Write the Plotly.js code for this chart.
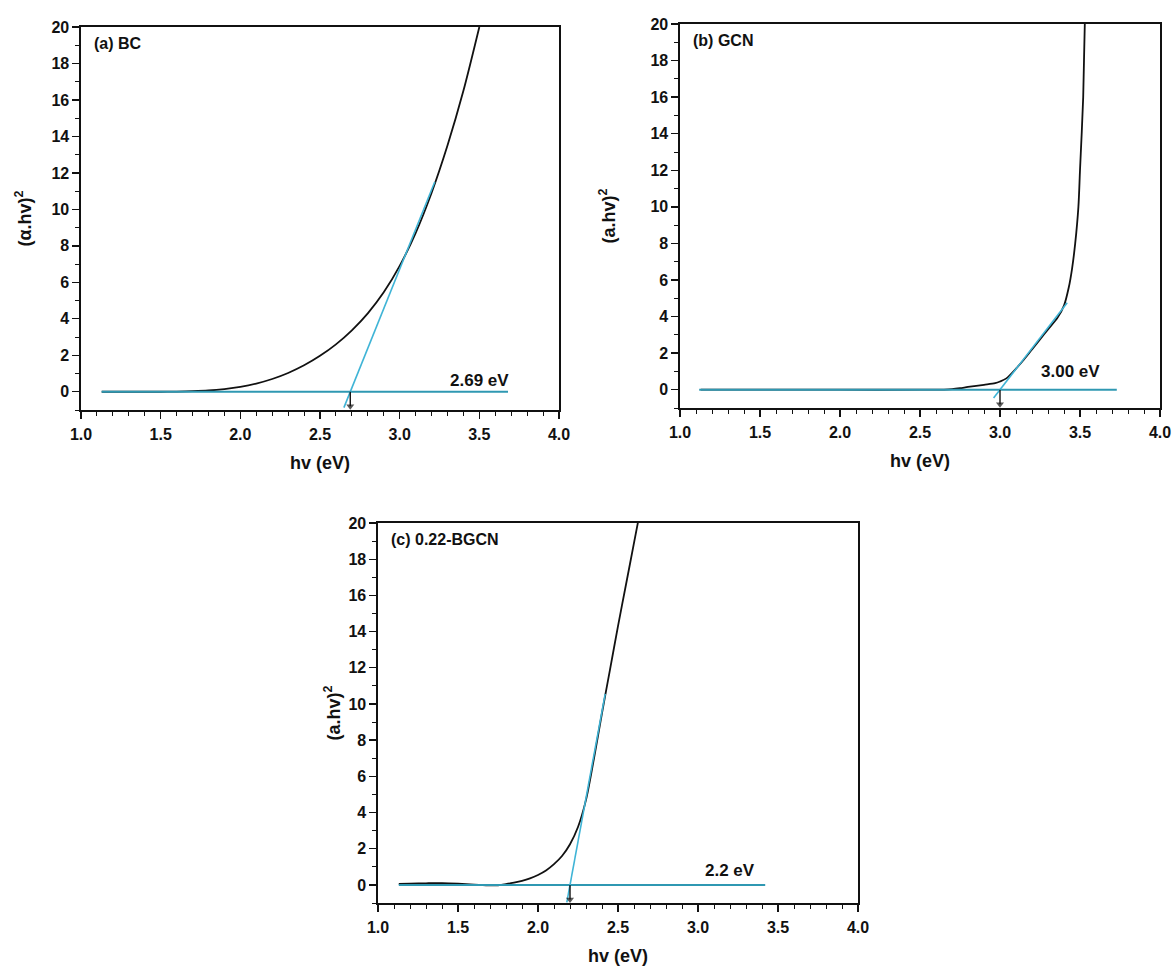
<!DOCTYPE html>
<html>
<head>
<meta charset="utf-8">
<script src="https://cdn.plot.ly/plotly-3.0.1.min.js"></script>
<style>html,body{margin:0;padding:0;background:#fff;}#chart{width:1174px;height:966px;}</style>
</head>
<body>
<div id="chart"></div>
<script>
// ---------- data ----------
// (a) BC
const bcX = [1.13, 1.3, 1.5, 1.6, 1.7, 1.8, 1.9, 2.0, 2.1, 2.2, 2.3, 2.4, 2.5, 2.6, 2.7, 2.8, 2.9, 3.0, 3.1, 3.2, 3.3, 3.4, 3.5];
const bcY = [0.0, 0.0, 0.0, 0.01, 0.03, 0.07, 0.15, 0.27, 0.45, 0.70, 1.03, 1.45, 1.97, 2.6, 3.37, 4.3, 5.45, 6.9, 8.7, 10.9, 13.5, 16.5, 20.0];
const bcTanX = [2.65, 3.22];
const bcTanY = [-0.87, 11.5];
const bcBaseX = [1.13, 3.68];
const bcBaseY = [0, 0];

// (b) GCN
const gcnX = [1.13, 1.5, 2.0, 2.5, 2.65, 2.7, 2.75, 2.8, 2.9, 2.97, 3.0, 3.04, 3.1, 3.15, 3.2, 3.25, 3.3, 3.36, 3.4, 3.43, 3.45, 3.47, 3.49, 3.5, 3.52, 3.53, 3.55];
const gcnY = [0, 0, 0, 0, 0.01, 0.03, 0.08, 0.15, 0.27, 0.36, 0.45, 0.62, 1.15, 1.65, 2.2, 2.75, 3.3, 3.95, 4.6, 5.6, 6.6, 8.0, 10.0, 12.0, 16.0, 20.0, 24.0];
const gcnTanX = [2.96, 3.42];
const gcnTanY = [-0.45, 4.75];
const gcnBaseX = [1.12, 3.73];
const gcnBaseY = [0, 0];

// (c) 0.22-BGCN
const bgcnX = [1.13, 1.2, 1.3, 1.4, 1.5, 1.6, 1.7, 1.75, 1.8, 1.85, 1.9, 1.95, 2.0, 2.05, 2.1, 2.15, 2.2, 2.25, 2.3, 2.35, 2.4, 2.45, 2.5, 2.55, 2.6, 2.65];
const bgcnY = [0.05, 0.07, 0.09, 0.1, 0.07, 0.02, -0.03, -0.02, 0.04, 0.12, 0.22, 0.36, 0.55, 0.8, 1.15, 1.6, 2.25, 3.2, 4.7, 7.0, 9.5, 11.9, 14.3, 16.6, 18.9, 21.2];
const bgcnTanX = [2.18, 2.42];
const bgcnTanY = [-0.96, 10.56];
const bgcnBaseX = [1.13, 3.42];
const bgcnBaseY = [0, 0];

const bandGaps = [2.69, 3.00, 2.2];
const arrowY = [0, -0.8];
const gapLabels = ['2.69 eV', '3.00 eV', '2.2 eV'];
const gapLabelX = [3.50, 3.44, 3.20];
const gapLabelY = [0.6, 1.0, 0.8];
const panelLabels = ['(a) BC', '(b) GCN', '(c) 0.22-BGCN'];
const yTitles = ['(\u03b1.hv)<sup>2</sup>', '(a.hv)<sup>2</sup>', '(a.hv)<sup>2</sup>'];
const xTitle = 'hv (eV)';

// ---------- styling ----------
const FONT = 'Arial, "Liberation Sans", sans-serif';
const BLACK = '#111111';
const CYAN_T = '#3fb4d6';
const CYAN_B = '#2f98b2';

const curves = [[bcX, bcY], [gcnX, gcnY], [bgcnX, bgcnY]];
const tangents = [[bcTanX, bcTanY], [gcnTanX, gcnTanY], [bgcnTanX, bgcnTanY]];
const baselines = [[bcBaseX, bcBaseY], [gcnBaseX, gcnBaseY], [bgcnBaseX, bgcnBaseY]];

const traces = [];
for (let i = 0; i < 3; i++) {
  const xa = i === 0 ? 'x' : 'x' + (i + 1);
  const ya = i === 0 ? 'y' : 'y' + (i + 1);
  traces.push({x: curves[i][0], y: curves[i][1], xaxis: xa, yaxis: ya, mode: 'lines',
    line: {color: BLACK, width: 1.8, shape: 'spline', smoothing: 0.8}, hoverinfo: 'skip'});
  traces.push({x: baselines[i][0], y: baselines[i][1], xaxis: xa, yaxis: ya, mode: 'lines',
    line: {color: CYAN_B, width: 2}, hoverinfo: 'skip'});
  traces.push({x: tangents[i][0], y: tangents[i][1], xaxis: xa, yaxis: ya, mode: 'lines',
    line: {color: CYAN_T, width: 1.6}, hoverinfo: 'skip'});
  // band-gap arrow
  traces.push({x: [bandGaps[i], bandGaps[i]], y: arrowY, xaxis: xa, yaxis: ya, mode: 'lines+markers',
    line: {color: BLACK, width: 1.4},
    marker: {symbol: 'triangle-down', size: [0, 7], color: BLACK, line: {width: 0}},
    hoverinfo: 'skip'});
}

function xAxis(domain, anchor) {
  return {domain: domain, anchor: anchor, range: [1, 4], dtick: 0.5, tick0: 1, tickformat: '.1f',
    ticks: 'outside', ticklen: 7, tickwidth: 1.3, tickcolor: BLACK,
    minor: {dtick: 0.1, ticks: 'outside', ticklen: 4, tickwidth: 1, tickcolor: BLACK},
    showline: true, linecolor: BLACK, linewidth: 1.6, mirror: true,
    showgrid: false, zeroline: false, ticklabelstandoff: 2,
    tickfont: {family: FONT, size: 16, color: BLACK, weight: 'bold'},
    title: {text: xTitle, standoff: 14, font: {family: FONT, size: 18, color: BLACK, weight: 'bold'}}};
}
function yAxis(domain, anchor, title, standoff) {
  return {domain: domain, anchor: anchor, range: [-1, 20], dtick: 2, tick0: 0,
    ticks: 'outside', ticklen: 7, tickwidth: 1.3, tickcolor: BLACK,
    minor: {dtick: 1, ticks: 'outside', ticklen: 4, tickwidth: 1, tickcolor: BLACK},
    showline: true, linecolor: BLACK, linewidth: 1.6, mirror: true,
    showgrid: false, zeroline: false,
    tickfont: {family: FONT, size: 16, color: BLACK, weight: 'bold'},
    title: {text: title, standoff: standoff, font: {family: FONT, size: 18, color: BLACK, weight: 'bold'}}};
}

const W = 1174, H = 966;
const dx = (a, b) => [a / W, b / W];
const dy = (top, bottom) => [1 - bottom / H, 1 - top / H];

const annotations = [];
for (let i = 0; i < 3; i++) {
  const xr = i === 0 ? 'x' : 'x' + (i + 1);
  const yr = i === 0 ? 'y' : 'y' + (i + 1);
  annotations.push({xref: xr, yref: yr, x: 1.07, y: 19.1, xanchor: 'left', yanchor: 'middle',
    text: panelLabels[i], showarrow: false, font: {family: FONT, size: 16, color: BLACK, weight: 'bold'}});
  annotations.push({xref: xr, yref: yr, x: gapLabelX[i], y: gapLabelY[i], xanchor: 'center', yanchor: 'middle',
    text: gapLabels[i], showarrow: false, font: {family: FONT, size: 17, color: BLACK, weight: 'bold'}});
}

const layout = {
  width: W, height: H,
  margin: {l: 0, r: 0, t: 0, b: 0},
  paper_bgcolor: '#ffffff', plot_bgcolor: '#ffffff',
  showlegend: false,
  xaxis: xAxis(dx(81, 559), 'y'),
  yaxis: yAxis(dy(27, 410), 'x', yTitles[0], 15),
  xaxis2: xAxis(dx(680, 1160), 'y2'),
  yaxis2: yAxis(dy(24, 408), 'x2', yTitles[1], 30),
  xaxis3: xAxis(dx(378, 858), 'y3'),
  yaxis3: yAxis(dy(523, 903), 'x3', yTitles[2], 3),
  annotations: annotations
};

Plotly.newPlot('chart', traces, layout, {staticPlot: true, displayModeBar: false});
</script>
</body>
</html>
